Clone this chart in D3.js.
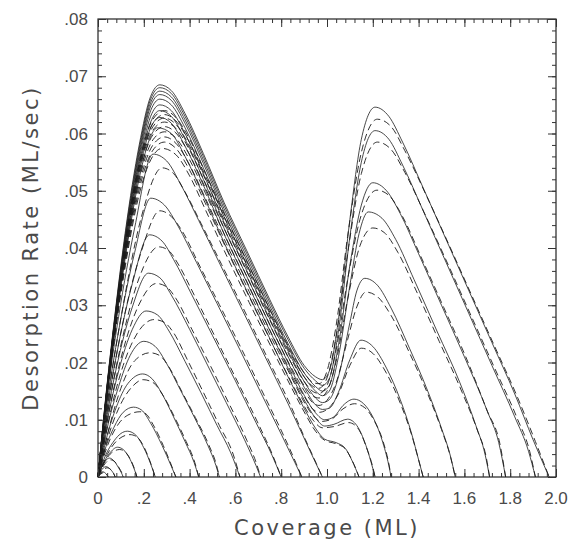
<!DOCTYPE html>
<html>
<head>
<meta charset="utf-8">
<script src="https://cdn.jsdelivr.net/npm/d3@7"></script>
<style>
  body { margin: 0; background: #fff; }
  text { font-family: "DejaVu Sans", sans-serif; fill: #4a4a4a; }
</style>
</head>
<body>
<div id="plot"></div>
<script>
"use strict";

var WIDTH = 568;
var HEIGHT = 546;
var LEFT = 98;
var TOP = 19;
var PLOT_W = 458;
var PLOT_H = 458;

// Axis ticks and labels
var xTicks = [0, 0.2, 0.4, 0.6, 0.8, 1.0, 1.2, 1.4, 1.6, 1.8, 2.0];
var xTickLabels = ["0", ".2", ".4", ".6", ".8", "1.0", "1.2", "1.4", "1.6", "1.8", "2.0"];
var yTicks = [0, 0.01, 0.02, 0.03, 0.04, 0.05, 0.06, 0.07, 0.08];
var yTickLabels = ["0", ".01", ".02", ".03", ".04", ".05", ".06", ".07", ".08"];
var X_MINOR = 0.04;
var Y_MINOR = 0.002;

// Solid curves: [coverage, rate]
var solidCurves = [
    [[0,0],[.01,.0006],[.022,.0009],[.034,.0006],[.045,0]],
    [[0,0],[.012,.001],[.035,.0018],[.055,.0013],[.068,.0006],[.075,0]],
    [[0,0],[.015,.0016],[.03,.0027],[.05,.0033],[.07,.0028],[.09,.0016],[.105,.0005],[.11,0]],
    [[0,0],[.02,.0021],[.05,.0041],[.085,.0052],[.11,.0048],[.14,.0031],[.16,.0012],[.17,0]],
    [[0,0],[.03,.0035],[.07,.0063],[.1,.0076],[.128,.008],[.16,.0075],[.2,.0051],[.23,.0023],[.25,0]],
    [[0,0],[.03,.0047],[.07,.0087],[.11,.0113],[.155,.0122],[.19,.0117],[.23,.0094],[.28,.0055],[.32,.0019],[.34,0]],
    [[0,0],[.04,.0072],[.08,.0122],[.13,.0163],[.195,.018],[.235,.0172],[.28,.0145],[.33,.0105],[.38,.0062],[.42,.0025],[.44,0]],
    [[0,0],[.04,.0085],[.09,.0158],[.14,.0212],[.2,.0237],[.25,.0228],[.3,.0198],[.36,.0152],[.42,.0105],[.48,.0055],[.515,.002],[.53,0]],
    [[0,0],[.04,.0097],[.09,.0185],[.15,.0258],[.21,.029],[.26,.0283],[.31,.0255],[.38,.0202],[.45,.0147],[.52,.009],[.58,.0042],[.62,0]],
    [[0,0],[.04,.0108],[.09,.0208],[.15,.0297],[.22,.0356],[.27,.0348],[.32,.0318],[.4,.0258],[.48,.0194],[.56,.013],[.64,.0065],[.69,.002],[.71,0]],
    [[0,0],[.04,.0119],[.09,.0232],[.15,.0338],[.225,.0423],[.28,.0412],[.33,.038],[.41,.0318],[.5,.0247],[.6,.0168],[.69,.0095],[.76,.0038],[.80,0]],
    [[0,0],[.04,.013],[.09,.0255],[.16,.0392],[.23,.0487],[.29,.0475],[.35,.0438],[.43,.0375],[.52,.0303],[.62,.0222],[.72,.014],[.8,.0075],[.86,.0025],[.89,0]],
    [[0,0],[.04,.0142],[.09,.028],[.16,.0435],[.24,.0564],[.3,.0552],[.36,.0512],[.44,.0448],[.53,.0374],[.63,.0292],[.73,.021],[.83,.0128],[.9,.0068],[.95,.0025],[.98,0]],
    [[0,0],[.03,.011],[.07,.0242],[.12,.0385],[.18,.0522],[.23,.0595],[.26,.061],[.32,.06],[.38,.056],[.46,.0492],[.55,.041],[.65,.0325],[.75,.0242],[.83,.0175],[.9,.012],[.95,.0085],[.99,.0066],[1.04,.006],[1.08,.005],[1.11,.0028],[1.14,0]],
    [[0,0],[.03,.0112],[.07,.0246],[.12,.0392],[.18,.0532],[.23,.061],[.27,.0628],[.32,.0618],[.38,.0578],[.46,.051],[.55,.0425],[.65,.034],[.75,.0256],[.83,.019],[.9,.0135],[.95,.0103],[.99,.0089],[1.03,.0092],[1.09,.0101],[1.13,.009],[1.17,.0055],[1.2,.0015],[1.21,0]],
    [[0,0],[.03,.0114],[.07,.025],[.12,.0398],[.18,.054],[.23,.062],[.27,.064],[.32,.063],[.38,.059],[.46,.052],[.55,.0435],[.65,.035],[.75,.0266],[.83,.02],[.9,.0143],[.95,.0112],[.99,.01],[1.03,.0105],[1.07,.0125],[1.118,.0136],[1.16,.0128],[1.2,.0105],[1.24,.0065],[1.27,.002],[1.28,0]],
    [[0,0],[.03,.0116],[.07,.0253],[.12,.0404],[.18,.0547],[.23,.063],[.27,.065],[.32,.064],[.38,.06],[.46,.053],[.55,.0445],[.65,.036],[.75,.0276],[.83,.021],[.9,.0157],[.95,.0126],[.98,.0118],[1.01,.012],[1.05,.0148],[1.1,.0205],[1.148,.0239],[1.2,.0228],[1.26,.019],[1.32,.0135],[1.37,.0075],[1.4,.003],[1.42,0]],
    [[0,0],[.03,.0118],[.07,.0257],[.12,.041],[.18,.0555],[.23,.064],[.27,.066],[.32,.065],[.38,.061],[.46,.054],[.55,.0455],[.65,.037],[.75,.0285],[.83,.022],[.9,.0167],[.95,.0138],[.98,.013],[1.01,.0135],[1.05,.0175],[1.1,.027],[1.13,.0325],[1.165,.0347],[1.22,.0335],[1.28,.0295],[1.36,.0225],[1.44,.015],[1.5,.0085],[1.54,.0035],[1.56,0]],
    [[0,0],[.03,.012],[.07,.0261],[.12,.0415],[.18,.0562],[.23,.0648],[.27,.0668],[.32,.0658],[.38,.0618],[.46,.0548],[.55,.0463],[.65,.0378],[.75,.0293],[.83,.0227],[.9,.0175],[.95,.015],[.98,.0142],[1.01,.015],[1.05,.021],[1.1,.0335],[1.14,.0425],[1.18,.0463],[1.24,.0452],[1.3,.0415],[1.38,.0345],[1.48,.0255],[1.58,.0165],[1.65,.009],[1.69,.004],[1.71,0]],
    [[0,0],[.03,.0121],[.07,.0264],[.12,.042],[.18,.0568],[.23,.0654],[.27,.0674],[.32,.0664],[.38,.0624],[.46,.0554],[.55,.0469],[.65,.0384],[.75,.0299],[.83,.0233],[.9,.0182],[.95,.0158],[.98,.015],[1.01,.016],[1.05,.023],[1.1,.037],[1.15,.0475],[1.2,.0514],[1.26,.05],[1.32,.046],[1.4,.039],[1.5,.03],[1.6,.021],[1.7,.0115],[1.75,.006],[1.78,0]],
    [[0,0],[.03,.0123],[.07,.0267],[.12,.0425],[.18,.0574],[.23,.066],[.27,.068],[.32,.067],[.38,.063],[.46,.056],[.55,.0475],[.65,.039],[.75,.0305],[.83,.024],[.9,.019],[.95,.0168],[.98,.016],[1.01,.0172],[1.05,.0255],[1.1,.042],[1.15,.055],[1.21,.0605],[1.27,.059],[1.33,.0545],[1.42,.0465],[1.52,.0375],[1.62,.0285],[1.72,.0195],[1.82,.0105],[1.88,.0045],[1.91,0]],
    [[0,0],[.03,.0125],[.07,.027],[.12,.043],[.18,.058],[.23,.0665],[.27,.0685],[.32,.0675],[.38,.0635],[.46,.0565],[.55,.048],[.65,.0395],[.75,.031],[.83,.0245],[.9,.0195],[.95,.0175],[.98,.017],[1.01,.0185],[1.05,.0275],[1.1,.045],[1.15,.059],[1.21,.0646],[1.27,.063],[1.33,.0585],[1.42,.0505],[1.52,.0415],[1.62,.0325],[1.72,.0235],[1.82,.0145],[1.9,.0065],[1.97,0]]
];

// Dashed curves: [coverage, rate]
var dashedCurves = [
    [[0,0],[.012,.0005],[.026,.0008],[.037,.0005],[.045,0]],
    [[0,0],[.015,.0009],[.04,.0016],[.058,.0012],[.07,.0005],[.075,0]],
    [[0,0],[.02,.0017],[.055,.003],[.075,.0026],[.095,.0014],[.107,.0004],[.11,0]],
    [[0,0],[.03,.0027],[.065,.0044],[.095,.0048],[.12,.0043],[.145,.0028],[.162,.0011],[.17,0]],
    [[0,0],[.04,.0039],[.09,.0066],[.14,.0074],[.17,.007],[.205,.0049],[.232,.0022],[.25,0]],
    [[0,0],[.04,.0053],[.09,.0093],[.13,.0108],[.183,.0114],[.21,.011],[.24,.0092],[.285,.0055],[.322,.0019],[.34,0]],
    [[0,0],[.05,.0077],[.1,.0128],[.15,.0158],[.197,.017],[.24,.0165],[.285,.0142],[.335,.0104],[.385,.0062],[.423,.0025],[.44,0]],
    [[0,0],[.05,.0088],[.1,.0155],[.16,.0203],[.227,.0217],[.27,.0212],[.31,.0192],[.365,.015],[.425,.0104],[.485,.0055],[.518,.002],[.53,0]],
    [[0,0],[.05,.0105],[.11,.0195],[.17,.025],[.245,.0275],[.29,.027],[.33,.0252],[.39,.0205],[.46,.0148],[.53,.009],[.59,.004],[.62,0]],
    [[0,0],[.05,.0118],[.11,.0222],[.18,.0302],[.255,.0338],[.3,.0332],[.34,.0312],[.41,.0258],[.49,.0195],[.57,.013],[.65,.0064],[.695,.002],[.71,0]],
    [[0,0],[.05,.013],[.11,.0248],[.18,.0348],[.265,.0402],[.31,.0395],[.35,.0372],[.42,.0318],[.51,.0246],[.61,.0166],[.7,.0093],[.765,.0036],[.80,0]],
    [[0,0],[.05,.0142],[.11,.0272],[.19,.0395],[.27,.0465],[.32,.0455],[.37,.0428],[.44,.0372],[.53,.0301],[.63,.0221],[.73,.0139],[.81,.0073],[.865,.0024],[.89,0]],
    [[0,0],[.05,.0155],[.11,.03],[.19,.0455],[.28,.054],[.33,.053],[.38,.0498],[.45,.0443],[.54,.0371],[.64,.029],[.74,.0208],[.84,.0126],[.905,.0066],[.953,.0024],[.98,0]],
    [[0,0],[.03,.0106],[.07,.0236],[.12,.037],[.18,.0494],[.24,.0561],[.28,.0574],[.34,.0563],[.4,.0526],[.47,.0466],[.56,.0388],[.66,.0305],[.76,.0224],[.84,.016],[.9,.0114],[.95,.008],[.99,.0064],[1.04,.0058],[1.08,.0049],[1.112,.0027],[1.14,0]],
    [[0,0],[.03,.0108],[.07,.024],[.12,.0376],[.18,.0503],[.24,.0571],[.29,.0585],[.34,.0574],[.4,.0536],[.47,.0477],[.56,.0399],[.66,.0315],[.76,.0233],[.84,.0169],[.9,.0124],[.94,.0099],[.98,.0086],[1.03,.0088],[1.095,.0095],[1.135,.0085],[1.172,.0052],[1.202,.0014],[1.21,0]],
    [[0,0],[.03,.011],[.07,.0244],[.12,.0382],[.18,.0511],[.24,.058],[.29,.0594],[.34,.0583],[.4,.0545],[.47,.0486],[.56,.0408],[.66,.0324],[.76,.0241],[.84,.0178],[.9,.0131],[.94,.0107],[.975,.0097],[1.02,.0101],[1.07,.0119],[1.12,.0128],[1.165,.0121],[1.205,.0099],[1.245,.0062],[1.272,.0019],[1.28,0]],
    [[0,0],[.03,.0112],[.07,.0248],[.12,.0388],[.18,.0519],[.24,.0589],[.29,.0603],[.34,.0592],[.4,.0554],[.47,.0495],[.56,.0417],[.66,.0333],[.76,.0249],[.84,.0186],[.9,.0141],[.94,.0118],[.965,.0113],[1.0,.0118],[1.05,.0145],[1.1,.0195],[1.15,.0225],[1.2,.0216],[1.26,.0181],[1.32,.0129],[1.37,.0073],[1.4,.003],[1.42,0]],
    [[0,0],[.03,.0114],[.07,.0252],[.12,.0394],[.18,.0527],[.24,.0598],[.29,.0612],[.34,.0601],[.4,.0563],[.47,.0504],[.56,.0426],[.66,.0342],[.76,.0258],[.84,.0194],[.9,.0151],[.94,.0129],[.965,.0125],[1.0,.0134],[1.04,.0165],[1.09,.024],[1.13,.0297],[1.17,.0323],[1.22,.0315],[1.28,.0282],[1.36,.0217],[1.44,.0145],[1.5,.0083],[1.54,.0034],[1.56,0]],
    [[0,0],[.03,.0116],[.07,.0256],[.12,.04],[.18,.0534],[.24,.0606],[.29,.062],[.34,.0609],[.4,.0571],[.47,.0512],[.56,.0434],[.66,.035],[.76,.0266],[.84,.0202],[.9,.016],[.94,.0141],[.965,.0138],[1.0,.015],[1.04,.0202],[1.09,.031],[1.145,.0405],[1.2,.0435],[1.25,.0427],[1.31,.0392],[1.39,.0325],[1.49,.0237],[1.59,.0148],[1.66,.0078],[1.695,.0035],[1.71,0]],
    [[0,0],[.03,.0118],[.07,.0259],[.12,.0405],[.18,.054],[.24,.0612],[.29,.0627],[.34,.0616],[.4,.0578],[.47,.0519],[.56,.0441],[.66,.0357],[.76,.0273],[.84,.0209],[.9,.0167],[.94,.0149],[.965,.0146],[1.0,.016],[1.04,.0222],[1.09,.0345],[1.15,.0458],[1.218,.0501],[1.27,.0492],[1.33,.0455],[1.41,.0385],[1.51,.0296],[1.61,.0206],[1.7,.0115],[1.755,.0058],[1.78,0]],
    [[0,0],[.03,.012],[.07,.0262],[.12,.041],[.18,.0545],[.24,.0618],[.29,.0633],[.34,.0622],[.4,.0584],[.47,.0525],[.56,.0447],[.66,.0363],[.76,.028],[.84,.0216],[.9,.0175],[.94,.0158],[.965,.0155],[1.0,.0173],[1.04,.0245],[1.09,.039],[1.15,.053],[1.22,.0585],[1.28,.0572],[1.34,.0532],[1.43,.0457],[1.53,.037],[1.63,.0281],[1.73,.0192],[1.83,.0103],[1.885,.0045],[1.91,0]],
    [[0,0],[.03,.0122],[.07,.0265],[.12,.0415],[.18,.055],[.24,.0625],[.29,.064],[.34,.0628],[.4,.059],[.47,.053],[.56,.0452],[.66,.0368],[.76,.0285],[.84,.0222],[.9,.0182],[.94,.0165],[.965,.0163],[1.0,.0185],[1.04,.0265],[1.09,.042],[1.15,.0567],[1.22,.0625],[1.28,.0612],[1.34,.057],[1.43,.0495],[1.53,.0408],[1.63,.0319],[1.73,.023],[1.83,.0141],[1.91,.0062],[1.97,0]]
];

var svg = d3.select("#plot").append("svg")
    .attr("width", WIDTH)
    .attr("height", HEIGHT);

var scaleX = d3.scaleLinear().domain([0, 2.0]).range([0, PLOT_W]);
var scaleY = d3.scaleLinear().domain([0, 0.08]).range([PLOT_H, 0]);

var plot = svg.append("g").attr("transform", translate(LEFT, TOP));

var lineGen = d3.line()
    .x(function (d) { return scaleX(d[0]); })
    .y(function (d) { return scaleY(d[1]); })
    .curve(d3.curveMonotoneX);

// Dashed curves underneath, solid on top
plot.selectAll("path.dashed").data(dashedCurves).enter().append("path")
    .attr("class", "dashed")
    .attr("d", lineGen)
    .style("fill", "none")
    .style("stroke", "#1a1a1a")
    .style("stroke-width", 0.9)
    .style("stroke-dasharray", "7,4");

plot.selectAll("path.solid").data(solidCurves).enter().append("path")
    .attr("class", "solid")
    .attr("d", lineGen)
    .style("fill", "none")
    .style("stroke", "#1a1a1a")
    .style("stroke-width", 0.8);

// Frame
plot.append("rect")
    .attr("x", 0).attr("y", 0)
    .attr("width", PLOT_W).attr("height", PLOT_H)
    .style("fill", "none")
    .style("stroke", "#222")
    .style("stroke-width", 1.2);

// Axes with inward ticks on all sides
var xMinor = d3.range(0, 2.0001, X_MINOR);
var yMinor = d3.range(0, 0.08001, Y_MINOR);

function addAxis(axis, ticks, len) {
    var g = plot.append("g").call(axis.tickValues(ticks).tickSize(len).tickFormat(""));
    g.select(".domain").remove();
    g.selectAll(".tick line").style("stroke", "#333").style("stroke-width", 1);
    return g;
}

addAxis(d3.axisTop(scaleX), xMinor, 4).attr("transform", translate(0, PLOT_H));
addAxis(d3.axisTop(scaleX), xTicks, 8).attr("transform", translate(0, PLOT_H));
addAxis(d3.axisBottom(scaleX), xMinor, 4);
addAxis(d3.axisBottom(scaleX), xTicks, 8);
addAxis(d3.axisRight(scaleY), yMinor, 4);
addAxis(d3.axisRight(scaleY), yTicks, 8);
addAxis(d3.axisLeft(scaleY), yMinor, 4).attr("transform", translate(PLOT_W, 0));
addAxis(d3.axisLeft(scaleY), yTicks, 8).attr("transform", translate(PLOT_W, 0));

// Tick labels
plot.selectAll("text.xlab").data(xTicks).enter().append("text")
    .attr("class", "xlab")
    .attr("x", function (d) { return scaleX(d); })
    .attr("y", PLOT_H + 27)
    .attr("text-anchor", "middle")
    .style("font-family", "'Liberation Sans', sans-serif")
    .style("font-size", "17px")
    .text(function (d, i) { return xTickLabels[i]; });

plot.selectAll("text.ylab").data(yTicks).enter().append("text")
    .attr("class", "ylab")
    .attr("x", -10)
    .attr("y", function (d) { return scaleY(d) + 6; })
    .attr("text-anchor", "end")
    .style("font-family", "'Liberation Sans', sans-serif")
    .style("font-size", "17px")
    .text(function (d, i) { return yTickLabels[i]; });

// Axis titles
svg.append("text")
    .attr("x", LEFT + PLOT_W / 2)
    .attr("y", 535)
    .attr("text-anchor", "middle")
    .style("font-size", "21px")
    .style("letter-spacing", "2.5px")
    .text("Coverage (ML)");

svg.append("text")
    .attr("transform", translate(38, TOP + PLOT_H / 2) + " rotate(-90)")
    .attr("text-anchor", "middle")
    .style("font-size", "21px")
    .style("letter-spacing", "2.5px")
    .text("Desorption Rate (ML/sec)");

function translate(x, y) {
    return "translate(" + x + "," + y + ")";
}
</script>
</body>
</html>
